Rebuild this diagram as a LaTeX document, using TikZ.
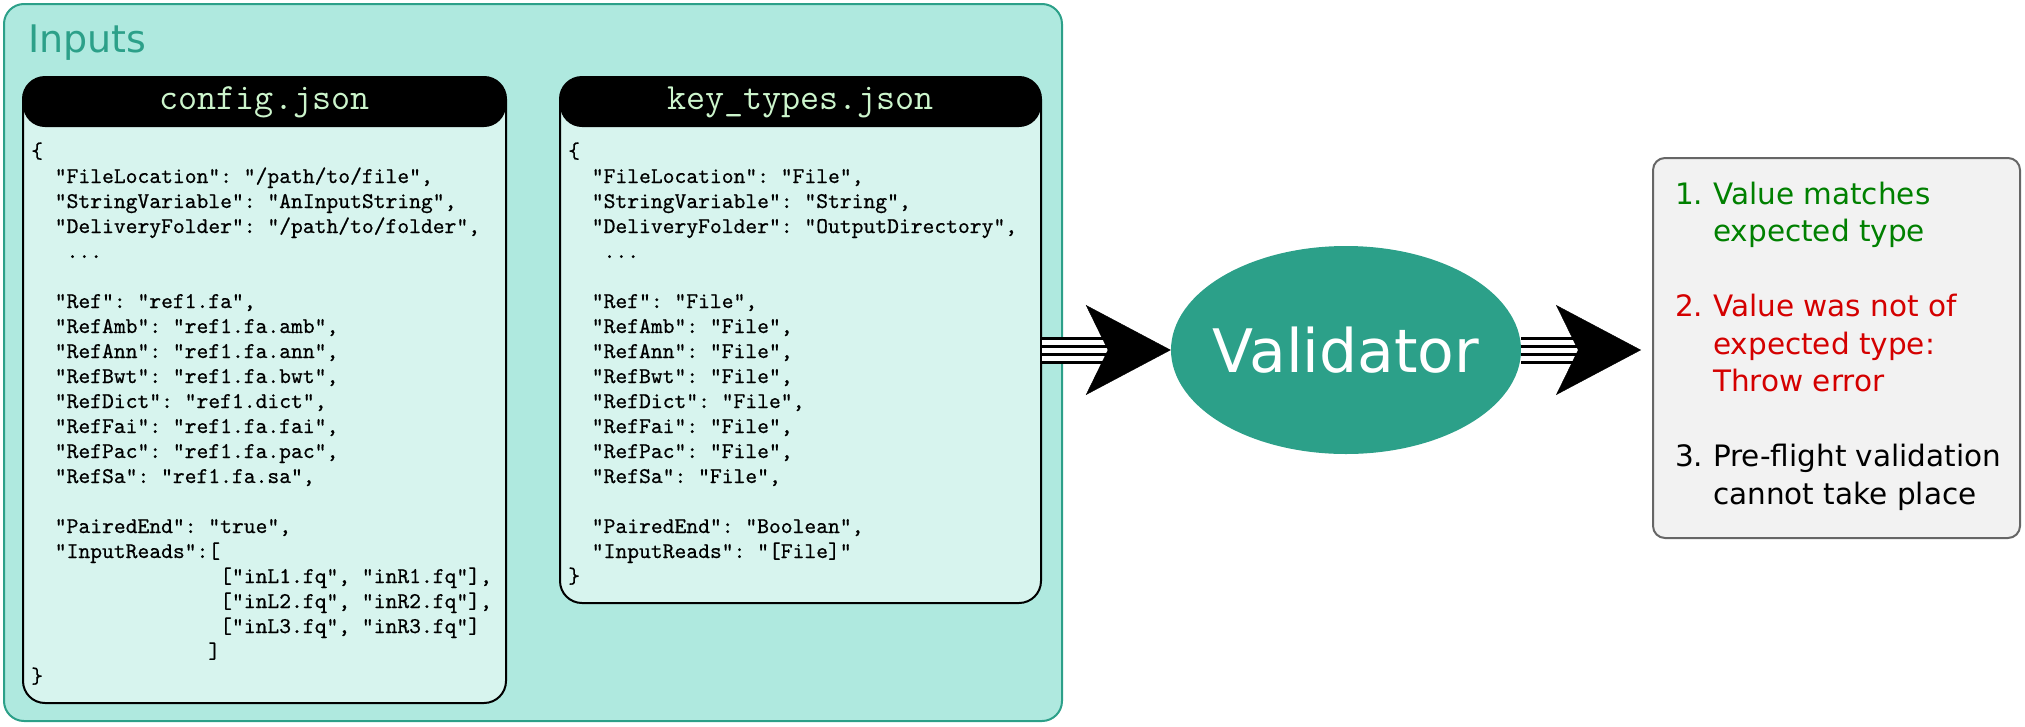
\documentclass[tikz,border=0pt]{standalone}
\usepackage{fontspec}
\setmainfont{DejaVu Sans}
\newfontfamily\codefont{lmmono10-regular.otf}[FakeBold=0.6]
\usetikzlibrary{calc, positioning, shapes.geometric, arrows.meta}

\definecolor{inputsbg}{RGB}{175,233,223}
\definecolor{tealdark}{RGB}{44,160,137}
\definecolor{codebg}{RGB}{215,244,238}
\definecolor{titlegreen}{RGB}{204,245,204}
\definecolor{resbg}{RGB}{242,242,242}
\definecolor{resedge}{RGB}{102,102,102}
\definecolor{okgreen}{RGB}{0,128,0}
\definecolor{errred}{RGB}{212,0,0}

\newcommand{\codeind}[1]{\hspace*{#1\fontcharwd\font`M}}
\newcommand{\codedots}{.{}.{}.}

\tikzset{
  jsonbox/.style={draw=black, line width=2pt, rounded corners=22pt, fill=codebg, inner sep=0pt,
    path picture={\fill[black] (path picture bounding box.north west) rectangle ([yshift=-50pt]path picture bounding box.north east);}},
  jsontitle/.style={text=titlegreen, font=\ttfamily\fontsize{37}{37}\selectfont, anchor=base, inner sep=0pt},
  codeline/.style={anchor=base west, inner sep=0pt, font=\codefont\fontsize{22.5}{25}\selectfont\frenchspacing},
  resline/.style={anchor=base west, inner sep=0pt, font=\fontsize{29.5}{37}\selectfont},
  fathead/.style={draw=white, line width=0.4pt, -{Stealth[length=85pt, width=90pt, inset=22pt, color=black]}},
  shaft/.style={line width=3pt, shorten >=58pt},
}

\begin{document}
\begin{tikzpicture}[x=1pt, y=-1pt]
  \useasboundingbox (0,0) rectangle (2025,726);

  % inputs
  \node[draw=tealdark, line width=2pt, fill=inputsbg, rounded corners=20pt, minimum width=1058pt, minimum height=717pt, inner sep=0pt] (inputs) at (533,362.5) {};
  \node[anchor=base west, text=tealdark, font=\fontsize{38}{38}\selectfont, inner sep=0pt] (inlabel) at (28,52) {Inputs};

  \node[jsonbox, minimum width=483pt, minimum height=626pt] (cfg) at (264.5,390) {};
  \node[jsonbox, minimum width=481pt, minimum height=526pt] (keys) at (800.5,340) {};
  \node[jsontitle] (cfgtitle) at ($(cfg.north)+(0,33)$) {config.json};
  \node[jsontitle] (keystitle) at ($(keys.north)+(0,33)$) {key\_types.json};

  \foreach \txt [count=\i] in {{\{},
      {\codeind{2}"FileLocation": "/path/to/file",},
      {\codeind{2}"StringVariable": "AnInputString",},
      {\codeind{2}"DeliveryFolder": "/path/to/folder",},
      {\codeind{3}\codedots}, {},
      {\codeind{2}"Ref": "ref1.fa",},
      {\codeind{2}"RefAmb": "ref1.fa.amb",},
      {\codeind{2}"RefAnn": "ref1.fa.ann",},
      {\codeind{2}"RefBwt": "ref1.fa.bwt",},
      {\codeind{2}"RefDict": "ref1.dict",},
      {\codeind{2}"RefFai": "ref1.fa.fai",},
      {\codeind{2}"RefPac": "ref1.fa.pac",},
      {\codeind{2}"RefSa": "ref1.fa.sa",}, {},
      {\codeind{2}"PairedEnd": "true",},
      {\codeind{2}"InputReads":[},
      {\codeind{16}["inL1.fq", "inR1.fq"],},
      {\codeind{16}["inL2.fq", "inR2.fq"],},
      {\codeind{16}["inL3.fq", "inR3.fq"]},
      {\codeind{15}]},
      {\}}}
    \node[codeline] (cfgline\i) at (31,{133+25*\i}) {\txt};

  \foreach \txt [count=\i] in {{\{},
      {\codeind{2}"FileLocation": "File",},
      {\codeind{2}"StringVariable": "String",},
      {\codeind{2}"DeliveryFolder": "OutputDirectory",},
      {\codeind{3}\codedots}, {},
      {\codeind{2}"Ref": "File",},
      {\codeind{2}"RefAmb": "File",},
      {\codeind{2}"RefAnn": "File",},
      {\codeind{2}"RefBwt": "File",},
      {\codeind{2}"RefDict": "File",},
      {\codeind{2}"RefFai": "File",},
      {\codeind{2}"RefPac": "File",},
      {\codeind{2}"RefSa": "File",}, {},
      {\codeind{2}"PairedEnd": "Boolean",},
      {\codeind{2}"InputReads": "[File]"},
      {\}}}
    \node[codeline] (keyline\i) at (568,{133+25*\i}) {\txt};

  % validator and results
  \node[ellipse, fill=tealdark, minimum width=350pt, minimum height=208pt, inner sep=0pt] (val) at (1346,350) {};
  \node[text=white, font=\fontsize{60}{60}\selectfont, inner sep=0pt] (valtext) at (val) {Validator};
  \node[draw=resedge, line width=2pt, fill=resbg, rounded corners=12pt, minimum width=367pt, minimum height=380pt, inner sep=0pt] (res) at (1836.5,348) {};

  \foreach \yy/\nr/\txt/\col [count=\i] in {204/1./Value matches/okgreen, 241.5//expected type/okgreen,
      316.5/2./Value was not of/errred, 354//expected type:/errred, 391.5//Throw error/errred,
      466.5/3./Pre-flight validation/black, 504//cannot take place/black}{
    \node[resline, text=\col] (resnr\i) at (1675,\yy) {\nr};
    \node[resline, text=\col] (restxt\i) at (1713,\yy) {\txt};
  }

  % arrows
  \draw[line width=27pt, white, shorten >=58pt] (keys.east |- val.west) -- (val.west);
  \foreach \dy in {-12,-4,4,12}
    \draw[shaft, transform canvas={yshift=\dy pt}] (keys.east |- val.west) -- (val.west);
  \draw[fathead] (keys.east |- val.west) -- (val.west);

  \draw[line width=27pt, white, shorten >=69pt] (val.east) -- (res.west |- val.east);
  \foreach \dy in {-12,-4,4,12}
    \draw[shaft, shorten >=69pt, transform canvas={yshift=\dy pt}] (val.east) -- (res.west |- val.east);
  \draw[fathead, shorten >=11pt] (val.east) -- (res.west |- val.east);
\end{tikzpicture}
\end{document}
